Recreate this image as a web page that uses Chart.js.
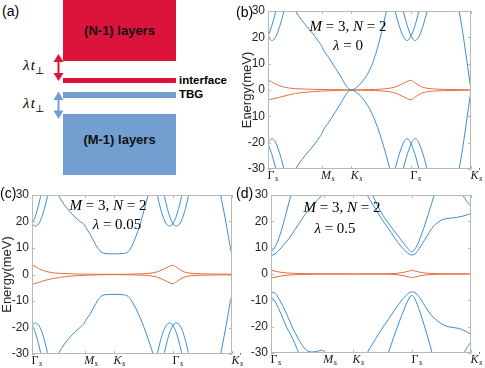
<!DOCTYPE html>
<html>
<head>
<meta charset="utf-8">
<script src="https://cdn.jsdelivr.net/npm/chart.js@4.4.1/dist/chart.umd.min.js"></script>
<style>
html, body { margin: 0; padding: 0; background: #fff; }
#fig { position: relative; width: 485px; height: 368px; overflow: hidden; font-family: "Liberation Sans", Arial, sans-serif; }
canvas { position: absolute; }
.tag { position: absolute; font-size: 14px; line-height: 16px; color: #000; }
.math { position: absolute; width: 140px; text-align: center; white-space: nowrap; font-family: "Liberation Serif", "DejaVu Serif", serif; font-size: 15px; line-height: 18px; color: #000; }
.blk { position: absolute; left: 63px; width: 113px; }
.layer { position: absolute; left: 63px; width: 113px; text-align: center; font-weight: bold; font-size: 13px; line-height: 16px; color: #111; }
.side { position: absolute; left: 179px; font-weight: bold; font-size: 11.5px; line-height: 13px; color: #000; }
.lt { position: absolute; left: 23px; font-family: "Liberation Serif", "DejaVu Serif", serif; font-style: italic; font-size: 15px; line-height: 18px; color: #000; }
.lt sub { font-size: 10px; font-style: normal; }
</style>
</head>
<body>
<div id="fig">
  <!-- (a) schematic -->
  <div class="tag" style="left:2px;top:3px">(a)</div>
  <div class="blk" style="top:0;height:61px;background:#dc143c"></div>
  <div class="layer" style="top:23px">(N-1) layers</div>
  <div class="blk" style="top:78px;height:5px;background:#dc143c"></div>
  <div class="side" style="top:74px">interface</div>
  <div class="blk" style="top:92px;height:6px;background:#729fcf"></div>
  <div class="side" style="top:88px">TBG</div>
  <div class="blk" style="top:114px;height:61px;background:#729fcf"></div>
  <div class="layer" style="top:132px">(M-1) layers</div>
  <div class="lt" style="top:56px">λ&#8202;t<sub>⊥</sub></div>
  <div class="lt" style="top:94px">λ&#8202;t<sub>⊥</sub></div>
  <svg style="position:absolute;left:0;top:0" width="120" height="130">
    <line x1="58.5" y1="60" x2="58.5" y2="75" stroke="#dc143c" stroke-width="2"/>
    <polygon points="58.5,54 53.5,62 63.5,62" fill="#dc143c"/>
    <polygon points="58.5,81 53.5,73 63.5,73" fill="#dc143c"/>
    <line x1="58.5" y1="98" x2="58.5" y2="112" stroke="#729fcf" stroke-width="2"/>
    <polygon points="58.5,91.5 53.5,100 63.5,100" fill="#729fcf"/>
    <polygon points="58.5,119 53.5,110.5 63.5,110.5" fill="#729fcf"/>
  </svg>

  <canvas id="cb" width="245" height="185" style="left:240px;top:0"></canvas>
  <canvas id="cc" width="245" height="188" style="left:0;top:180px"></canvas>
  <canvas id="cd" width="245" height="188" style="left:240px;top:180px"></canvas>

  <div class="tag" style="left:236px;top:4px">(b)</div>
  <div class="tag" style="left:0;top:185px">(c)</div>
  <div class="tag" style="left:236px;top:185px">(d)</div>

  <div class="math" style="left:278px;top:17px"><i>M</i> = 3, <i>N</i> = 2</div>
  <div class="math" style="left:278px;top:36px"><i>λ</i> = 0</div>
  <div class="math" style="left:38px;top:196px"><i>M</i> = 3, <i>N</i> = 2</div>
  <div class="math" style="left:47px;top:215px"><i>λ</i> = 0.05</div>
  <div class="math" style="left:272px;top:198px"><i>M</i> = 3, <i>N</i> = 2</div>
  <div class="math" style="left:265px;top:219px"><i>λ</i> = 0.5</div>
</div>

<script>
// k-path positions (fraction of the path) and labels
const kTicks = [0, 0.264, 0.41, 0.705, 1];
const kMain = ['Γ', 'M', 'K', 'Γ', 'K'];
const kItalic = [false, true, true, false, true];
const kPrime = [false, false, false, false, true];
const yTicks = [-30, -20, -10, 0, 10, 20, 30];

const BLUE = '#3a8ed3';
const ORANGE = '#e4703f';

// ---- (b) lambda = 0 ----
const bDiracX = [0.12, 0.15, 0.185, 0.226, 0.255, 0.264, 0.27, 0.3, 0.333, 0.36, 0.385, 0.41, 0.435, 0.46, 0.49, 0.51, 0.53, 0.55, 0.57, 0.59, 0.61];
const bDiracUp = [32, 28.2, 24.7, 20.9, 17.8, 16.8, 15.6, 12.2, 8.2, 4.9, 1.6, 0, 0.9, 2.8, 6.0, 9.2, 13.5, 19, 25.5, 32, 38];
const bDiracDn = [-32, -28.2, -24.7, -20.9, -17.8, -16.8, -15.6, -12.2, -8.2, -4.9, -1.6, 0, -0.9, -2.6, -5.8, -8.6, -12.2, -16.5, -21.5, -27, -33];
const bGamL1X = [-0.055, -0.04, -0.025, -0.01, 0.005, 0.02, 0.035, 0.05, 0.065, 0.08, 0.095];
const bGamL2X = [-0.095, -0.08, -0.065, -0.05, -0.035, -0.02, -0.005, 0.01, 0.025, 0.04, 0.055];
const bGamM1X = [0.61, 0.625, 0.64, 0.655, 0.67, 0.685, 0.7, 0.715, 0.73, 0.745, 0.76];
const bGamM2X = [0.65, 0.665, 0.68, 0.695, 0.71, 0.725, 0.74, 0.755, 0.77, 0.785, 0.8];
const bGamUp = [36, 30.5, 26.0, 22.4, 19.8, 18.8, 19.8, 22.4, 26.0, 30.5, 36];
const bGamDn = [-36, -30.5, -26.0, -22.4, -19.6, -18.5, -19.6, -22.4, -26.0, -30.5, -36];
const bKpX = [0.935, 0.96, 0.98, 1.0];
const bKpUp = [33, 21.5, 10.8, 0];
const bKpDn = [-33, -21.5, -10.8, 0];
const bOrX = [0, 0.02, 0.045, 0.07, 0.1, 0.136, 0.18, 0.22, 0.3, 0.41, 0.5, 0.56, 0.6, 0.63, 0.66, 0.685, 0.705, 0.72, 0.74, 0.76, 0.79, 0.83, 0.9, 1.0];
const bOrUp = [3.8, 3.0, 2.0, 1.3, 0.8, 0.5, 0.35, 0.25, 0.15, 0.05, 0.15, 0.35, 0.7, 1.2, 2.3, 3.2, 3.7, 3.0, 1.9, 1.1, 0.6, 0.35, 0.2, 0.05];
const bOrDn = [-3.8, -3.4, -3.0, -2.5, -1.9, -1.3, -0.9, -0.6, -0.3, -0.05, -0.15, -0.35, -0.7, -1.2, -2.3, -3.2, -3.7, -3.0, -1.9, -1.1, -0.6, -0.35, -0.2, -0.05];

// ---- (c) lambda = 0.05 ----
const cBandX = [0.12, 0.16, 0.2, 0.24, 0.262, 0.27, 0.29, 0.31, 0.33, 0.35, 0.37, 0.41, 0.45, 0.475, 0.49, 0.51, 0.53, 0.55, 0.57, 0.59, 0.61, 0.63];
const cBandUp = [31.5, 26.5, 22.8, 20.0, 18.7, 17.6, 15.3, 12.4, 9.8, 8.3, 7.9, 7.8, 7.9, 8.3, 9.5, 12.5, 16.5, 21.5, 27.0, 32.5, 38, 44];
const cBandDn = [-31.5, -26.5, -22.8, -20.0, -18.3, -17.1, -15.0, -12.2, -9.6, -8.0, -7.6, -7.5, -7.6, -8.0, -9.0, -11.5, -14.5, -18, -22, -26.5, -31, -36];
const cGamL1X = [-0.058, -0.043, -0.028, -0.013, 0.002, 0.017, 0.032, 0.047, 0.062, 0.077, 0.092];
const cGamL2X = [-0.092, -0.077, -0.062, -0.047, -0.032, -0.017, -0.002, 0.013, 0.028, 0.043, 0.058];
const cGamM1X = [0.613, 0.628, 0.643, 0.658, 0.673, 0.688, 0.703, 0.718, 0.733, 0.748, 0.763];
const cGamM2X = [0.647, 0.662, 0.677, 0.692, 0.707, 0.722, 0.737, 0.752, 0.767, 0.782, 0.797];
const cGamUp = [35, 29.5, 24.8, 21.2, 19.0, 18.3, 19.0, 21.2, 24.8, 29.5, 35];
const cGamDn = [-35, -29.5, -24.8, -21.2, -19.0, -18.3, -19.0, -21.2, -24.8, -29.5, -35];
const cKpX = [0.935, 0.96, 0.98, 0.993, 1.0];
const cKpUp = [33, 23.5, 15.2, 9.8, 7.7];
const cKpDn = [-33, -23.5, -15.2, -9.8, -7.7];
const cOrX = [0, 0.02, 0.045, 0.07, 0.1, 0.137, 0.18, 0.22, 0.3, 0.41, 0.5, 0.56, 0.6, 0.63, 0.66, 0.685, 0.705, 0.72, 0.74, 0.76, 0.79, 0.83, 0.9, 1.0];
const cOrUp = [3.7, 2.8, 1.8, 1.2, 0.7, 0.45, 0.3, 0.2, 0.1, 0.05, 0.15, 0.3, 0.6, 1.1, 2.1, 3.0, 3.5, 2.9, 1.8, 1.0, 0.5, 0.3, 0.2, 0.1];
const cOrDn = [-3.7, -3.3, -2.7, -2.1, -1.6, -1.1, -0.7, -0.45, -0.2, -0.05, -0.15, -0.3, -0.6, -1.1, -2.1, -3.0, -3.5, -2.9, -1.8, -1.0, -0.5, -0.3, -0.2, -0.1];

// ---- (d) lambda = 0.5 ----
const dUpSteepX = [0, 0.015, 0.036, 0.055, 0.07, 0.085, 0.1, 0.115];
const dUpSteepY = [8.3, 9.6, 12.9, 17.3, 21.5, 25.8, 30, 34];
const dUpGentleX = [0, 0.02, 0.04, 0.06, 0.09, 0.12, 0.15, 0.186, 0.22, 0.26, 0.29];
const dUpGentleY = [7.0, 7.6, 9.0, 10.8, 13.5, 16.8, 20.3, 24.2, 27.2, 30.2, 32.5];
const dUpOuterX = [0.46, 0.5, 0.54, 0.58, 0.62, 0.65, 0.675, 0.69, 0.705, 0.72, 0.74, 0.77, 0.81, 0.85, 0.885, 0.92, 0.96, 1.0];
const dUpOuterY = [32.5, 27.5, 22.5, 18, 13.5, 10.5, 8.5, 7.6, 7.2, 7.6, 9.5, 13.2, 17.9, 20.4, 21.1, 21.4, 22.0, 23.0];
const dUpInnerX = [0.49, 0.52, 0.55, 0.59, 0.63, 0.66, 0.685, 0.702, 0.715, 0.73, 0.75, 0.775, 0.8, 0.82];
const dUpInnerY = [33, 28, 23.5, 19, 15, 12, 9.6, 8.4, 9.0, 10.8, 14.5, 20, 26, 31];
const dUpKpX = [0.95, 0.97, 0.985, 1.0];
const dUpKpY = [31, 28.6, 27, 26];
const dDnGentleX = [0, 0.02, 0.04, 0.06, 0.086, 0.11, 0.136, 0.16, 0.185, 0.21, 0.235, 0.255, 0.265, 0.28];
const dDnGentleY = [-6.8, -7.3, -9.5, -12.3, -16.5, -20.8, -24.5, -27.5, -29.3, -29.6, -29.3, -28.9, -29.6, -31.5];
const dDnSteepX = [0, 0.02, 0.04, 0.06, 0.08, 0.1, 0.12, 0.14, 0.155];
const dDnSteepY = [-8.6, -10.4, -13.4, -17, -20.5, -23.3, -26.5, -30.3, -33];
const dDnOuterX = [0.46, 0.5, 0.54, 0.58, 0.62, 0.65, 0.675, 0.69, 0.705, 0.72, 0.74, 0.77, 0.8, 0.82, 0.85, 0.885, 0.935, 0.97, 1.0];
const dDnOuterY = [-32.5, -27.5, -22.5, -18, -13.5, -10.3, -8.2, -7.1, -6.8, -7.1, -8.6, -12.2, -15.5, -17, -18.8, -20, -20.6, -21.6, -22.9];
const dDnInnerX = [0.57, 0.6, 0.63, 0.66, 0.685, 0.702, 0.72, 0.745, 0.77, 0.795, 0.815];
const dDnInnerY = [-34, -27, -20.5, -14.5, -10, -8.1, -9.5, -14.5, -20.5, -27, -33];
const dDnKpX = [0.955, 0.975, 0.99, 1.0];
const dDnKpY = [-32, -28.5, -26.8, -25.8];
const dOrX = [0, 0.02, 0.04, 0.07, 0.1, 0.15, 0.3, 0.41, 0.55, 0.62, 0.66, 0.69, 0.705, 0.72, 0.75, 0.79, 0.85, 1.0];
const dOrUp = [1.5, 1.1, 0.75, 0.45, 0.3, 0.15, 0.05, 0.02, 0.05, 0.2, 0.6, 1.1, 1.4, 1.1, 0.6, 0.25, 0.1, 0.02];
const dOrDn = [-1.5, -1.2, -0.9, -0.55, -0.35, -0.2, -0.05, -0.02, -0.05, -0.2, -0.6, -1.1, -1.4, -1.1, -0.6, -0.25, -0.1, -0.02];

function band(xs, ys, color) {
    return {
        data: xs.map((x, i) => ({ x: x, y: ys[i] })),
        borderColor: color,
        borderWidth: 1,
        pointRadius: 0,
        fill: false,
        cubicInterpolationMode: 'monotone'
    };
}

// box, inward ticks and k-point labels (MATLAB style)
const framePlugin = {
    id: 'frame',
    afterDraw(chart) {
        const { ctx, chartArea: a, scales } = chart;
        ctx.save();
        ctx.strokeStyle = '#b8b8b8';
        ctx.lineWidth = 1;
        ctx.strokeRect(a.left + 0.5, a.top + 0.5, a.right - a.left - 1, a.bottom - a.top - 1);
        ctx.beginPath();
        yTicks.forEach(v => {
            const py = Math.round(scales.y.getPixelForValue(v)) + 0.5;
            ctx.moveTo(a.left, py); ctx.lineTo(a.left + 3, py);
            ctx.moveTo(a.right - 3, py); ctx.lineTo(a.right, py);
        });
        kTicks.forEach(k => {
            const px = Math.round(scales.x.getPixelForValue(k)) + 0.5;
            ctx.moveTo(px, a.bottom); ctx.lineTo(px, a.bottom - 3);
            ctx.moveTo(px, a.top); ctx.lineTo(px, a.top + 3);
        });
        ctx.stroke();

        ctx.fillStyle = '#1a1a1a';
        ctx.textAlign = 'left';
        ctx.textBaseline = 'alphabetic';
        const base = a.bottom + 9.5;
        kTicks.forEach((k, i) => {
            const px = scales.x.getPixelForValue(k) - 0.5;
            ctx.font = (kItalic[i] ? 'italic ' : '') + '12px "Liberation Serif"';
            ctx.fillText(kMain[i], px, base);
            const w = ctx.measureText(kMain[i]).width;
            if (kPrime[i]) {
                ctx.font = '9px "Liberation Serif"';
                ctx.fillText('′', px + w, base - 5);
            }
            ctx.font = 'italic 8.5px "Liberation Serif"';
            ctx.fillText('s', px + w + 0.5, base + 2.5);
        });
        ctx.restore();
    }
};

function makeChart(id, datasets, cfg) {
    return new Chart(document.getElementById(id), {
        type: 'line',
        data: { datasets: datasets },
        options: {
            responsive: false,
            animation: false,
            devicePixelRatio: 1,
            layout: { padding: cfg.padding },
            plugins: { legend: { display: false }, tooltip: { enabled: false } },
            scales: {
                x: {
                    type: 'linear', min: 0, max: 1,
                    ticks: { display: false },
                    grid: { display: false, drawTicks: false },
                    border: { display: false },
                    afterFit: s => { s.height = cfg.xHeight; }
                },
                y: {
                    type: 'linear', min: -30, max: 30,
                    afterBuildTicks: s => { s.ticks = yTicks.map(v => ({ value: v })); },
                    ticks: { padding: 3, color: '#262626', font: { family: '"Liberation Sans"', size: 12 } },
                    grid: { display: false, drawTicks: false },
                    border: { display: false },
                    title: {
                        display: cfg.yTitle, text: 'Energy(meV)', padding: 0, color: '#262626',
                        font: { family: '"Liberation Sans"', size: 13 }
                    },
                    afterFit: s => { s.width = cfg.yWidth; }
                }
            }
        },
        plugins: [framePlugin]
    });
}

makeChart('cb', [
    band(bDiracX, bDiracUp, BLUE), band(bDiracX, bDiracDn, BLUE),
    band(bGamL1X, bGamUp, BLUE), band(bGamL2X, bGamUp, BLUE),
    band(bGamM1X, bGamUp, BLUE), band(bGamM2X, bGamUp, BLUE),
    band(bGamL1X, bGamDn, BLUE), band(bGamL2X, bGamDn, BLUE),
    band(bGamM1X, bGamDn, BLUE), band(bGamM2X, bGamDn, BLUE),
    band(bKpX, bKpUp, BLUE), band(bKpX, bKpDn, BLUE),
    band(bOrX, bOrUp, ORANGE), band(bOrX, bOrDn, ORANGE)
], { padding: { left: 0, right: 14, top: 11, bottom: 0 }, yWidth: 28, xHeight: 16, yTitle: true });

makeChart('cc', [
    band(cBandX, cBandUp, BLUE), band(cBandX, cBandDn, BLUE),
    band(cGamL1X, cGamUp, BLUE), band(cGamL2X, cGamUp, BLUE),
    band(cGamM1X, cGamUp, BLUE), band(cGamM2X, cGamUp, BLUE),
    band(cGamL1X, cGamDn, BLUE), band(cGamL2X, cGamDn, BLUE),
    band(cGamM1X, cGamDn, BLUE), band(cGamM2X, cGamDn, BLUE),
    band(cKpX, cKpUp, BLUE), band(cKpX, cKpDn, BLUE),
    band(cOrX, cOrUp, ORANGE), band(cOrX, cOrDn, ORANGE)
], { padding: { left: 0, right: 13, top: 15, bottom: 0 }, yWidth: 32, xHeight: 14, yTitle: true });

makeChart('cd', [
    band(dUpSteepX, dUpSteepY, BLUE), band(dUpGentleX, dUpGentleY, BLUE),
    band(dUpOuterX, dUpOuterY, BLUE), band(dUpInnerX, dUpInnerY, BLUE),
    band(dUpKpX, dUpKpY, BLUE),
    band(dDnGentleX, dDnGentleY, BLUE), band(dDnSteepX, dDnSteepY, BLUE),
    band(dDnOuterX, dDnOuterY, BLUE), band(dDnInnerX, dDnInnerY, BLUE),
    band(dDnKpX, dDnKpY, BLUE),
    band(dOrX, dOrUp, ORANGE), band(dOrX, dOrDn, ORANGE)
], { padding: { left: 0, right: 14, top: 15, bottom: 0 }, yWidth: 31, xHeight: 15, yTitle: false });
</script>
</body>
</html>
